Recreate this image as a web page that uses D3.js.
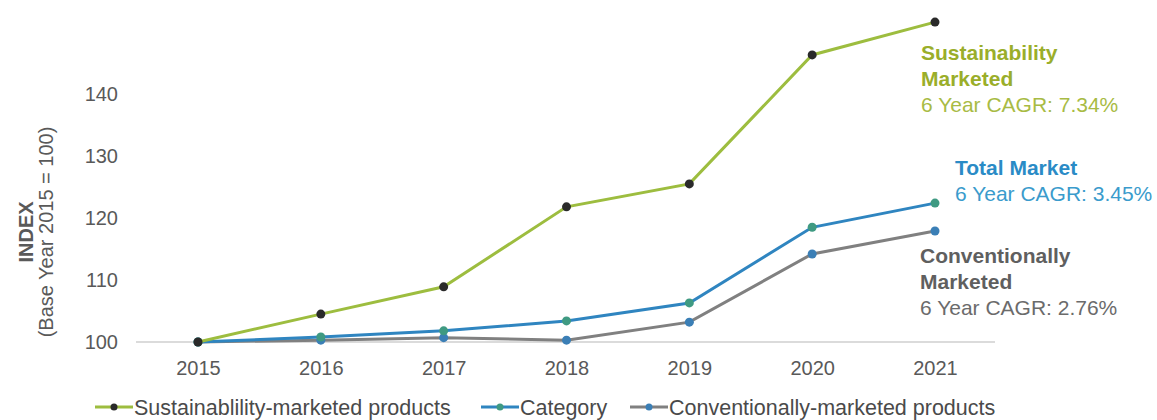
<!DOCTYPE html>
<html>
<head>
<meta charset="utf-8">
<script src="https://cdn.jsdelivr.net/npm/d3@7"></script>
<style>
  body { margin: 0; background: #fff; }
  text { font-family: "Liberation Sans", Arial, sans-serif; }
</style>
</head>
<body>
<div class="container"></div>
<script>
// chart size
const width = 1157;
const height = 420;

// data
const years = [2015, 2016, 2017, 2018, 2019, 2020, 2021];
const sustainable = [100, 104.5, 108.9, 121.8, 125.5, 146.3, 151.6];
const category = [100, 100.8, 101.8, 103.4, 106.3, 118.5, 122.4];
const conventional = [100, 100.3, 100.7, 100.3, 103.2, 114.2, 117.9];
const yTicks = [100, 110, 120, 130, 140];

const seriesNames = ["Sustainablility-marketed products", "Category", "Conventionally-marketed products"];
const seriesLine = ["#9dbd3f", "#2f85c0", "#808080"];
const seriesDot = ["#2a2a2a", "#3f9a82", "#3b7fb6"];

const svg = d3.select(".container")
  .append("svg")
  .attr("width", width)
  .attr("height", height);

const xScale = d3.scalePoint()
  .domain(years)
  .range([198, 935]);

const yScale = d3.scaleLinear()
  .domain([100, 140])
  .range([342, 94]);

// baseline
svg.append("line")
  .attr("x1", 136).attr("x2", 995)
  .attr("y1", yScale(100)).attr("y2", yScale(100))
  .attr("stroke", "#cfcfcf")
  .attr("stroke-width", 1.5);

// y axis labels
const yAxis = svg.append("g")
  .attr("transform", "translate(118,0)")
  .call(d3.axisLeft(yScale).tickValues(yTicks).tickSize(0).tickPadding(0));
yAxis.select(".domain").remove();
yAxis.selectAll("text")
  .attr("font-size", "20px")
  .attr("fill", "#595959")
  .attr("font-family", "Liberation Sans, Arial, sans-serif");

// x axis labels
const xAxis = svg.append("g")
  .attr("transform", "translate(0,361)")
  .call(d3.axisBottom(xScale).tickSize(0).tickPadding(0));
xAxis.select(".domain").remove();
xAxis.selectAll("text")
  .attr("font-size", "20px")
  .attr("fill", "#595959")
  .attr("font-family", "Liberation Sans, Arial, sans-serif");

// y axis title
const yTitle = svg.append("text")
  .attr("transform", "translate(33,232) rotate(-90)")
  .attr("text-anchor", "middle")
  .attr("font-size", "20px")
  .attr("fill", "#595959");
yTitle.append("tspan").attr("x", 0).attr("dy", 0).attr("font-weight", "bold").text("INDEX");
yTitle.append("tspan").attr("x", 0).attr("dy", 20).text("(Base Year 2015 = 100)");

// lines, drawn from back to front
const allSeries = [sustainable, category, conventional];
const line = d3.line()
  .x((d, i) => xScale(years[i]))
  .y(d => yScale(d));

[2, 1, 0].forEach(k => {
  svg.append("path")
    .datum(allSeries[k])
    .attr("fill", "none")
    .attr("stroke", seriesLine[k])
    .attr("stroke-width", 3)
    .attr("d", line);
  svg.append("g")
    .selectAll("circle")
    .data(allSeries[k])
    .join("circle")
    .attr("cx", (d, i) => xScale(years[i]))
    .attr("cy", d => yScale(d))
    .attr("r", 4.5)
    .attr("fill", seriesDot[k]);
});

// end labels
function endLabel(x, y, lines, color) {
  const t = svg.append("text")
    .attr("x", x).attr("y", y)
    .attr("font-size", "21px")
    .attr("fill", color);
  lines.forEach((l, i) => {
    t.append("tspan")
      .attr("x", x)
      .attr("dy", i === 0 ? 0 : 26)
      .attr("font-weight", l.bold ? "bold" : "normal")
      .attr("fill", l.color || color)
      .text(l.text);
  });
}
endLabel(921, 60, [
  { text: "Sustainability", bold: true, color: "#9aae2a" },
  { text: "Marketed", bold: true, color: "#9aae2a" },
  { text: "6 Year CAGR: 7.34%" }
], "#a8bb44");
endLabel(955, 175, [
  { text: "Total Market", bold: true, color: "#2a8bc6" },
  { text: "6 Year CAGR: 3.45%" }
], "#3a9bcc");
endLabel(920, 263, [
  { text: "Conventionally", bold: true, color: "#5f5f5f" },
  { text: "Marketed", bold: true, color: "#5f5f5f" },
  { text: "6 Year CAGR: 2.76%" }
], "#6b6b6b");

// legend
const legendX = [95, 481, 630];
const legend = svg.append("g");
seriesNames.forEach((name, k) => {
  const g = legend.append("g").attr("transform", `translate(${legendX[k]},407)`);
  g.append("line").attr("x1", 0).attr("x2", 38).attr("y1", 0).attr("y2", 0)
    .attr("stroke", seriesLine[k]).attr("stroke-width", 3);
  g.append("circle").attr("cx", 19).attr("cy", 0).attr("r", 3.5).attr("fill", seriesDot[k]);
  g.append("text").attr("x", 39).attr("y", 8)
    .attr("font-size", "21.5px").attr("fill", "#4a4a4a").text(name);
});
</script>
</body>
</html>
